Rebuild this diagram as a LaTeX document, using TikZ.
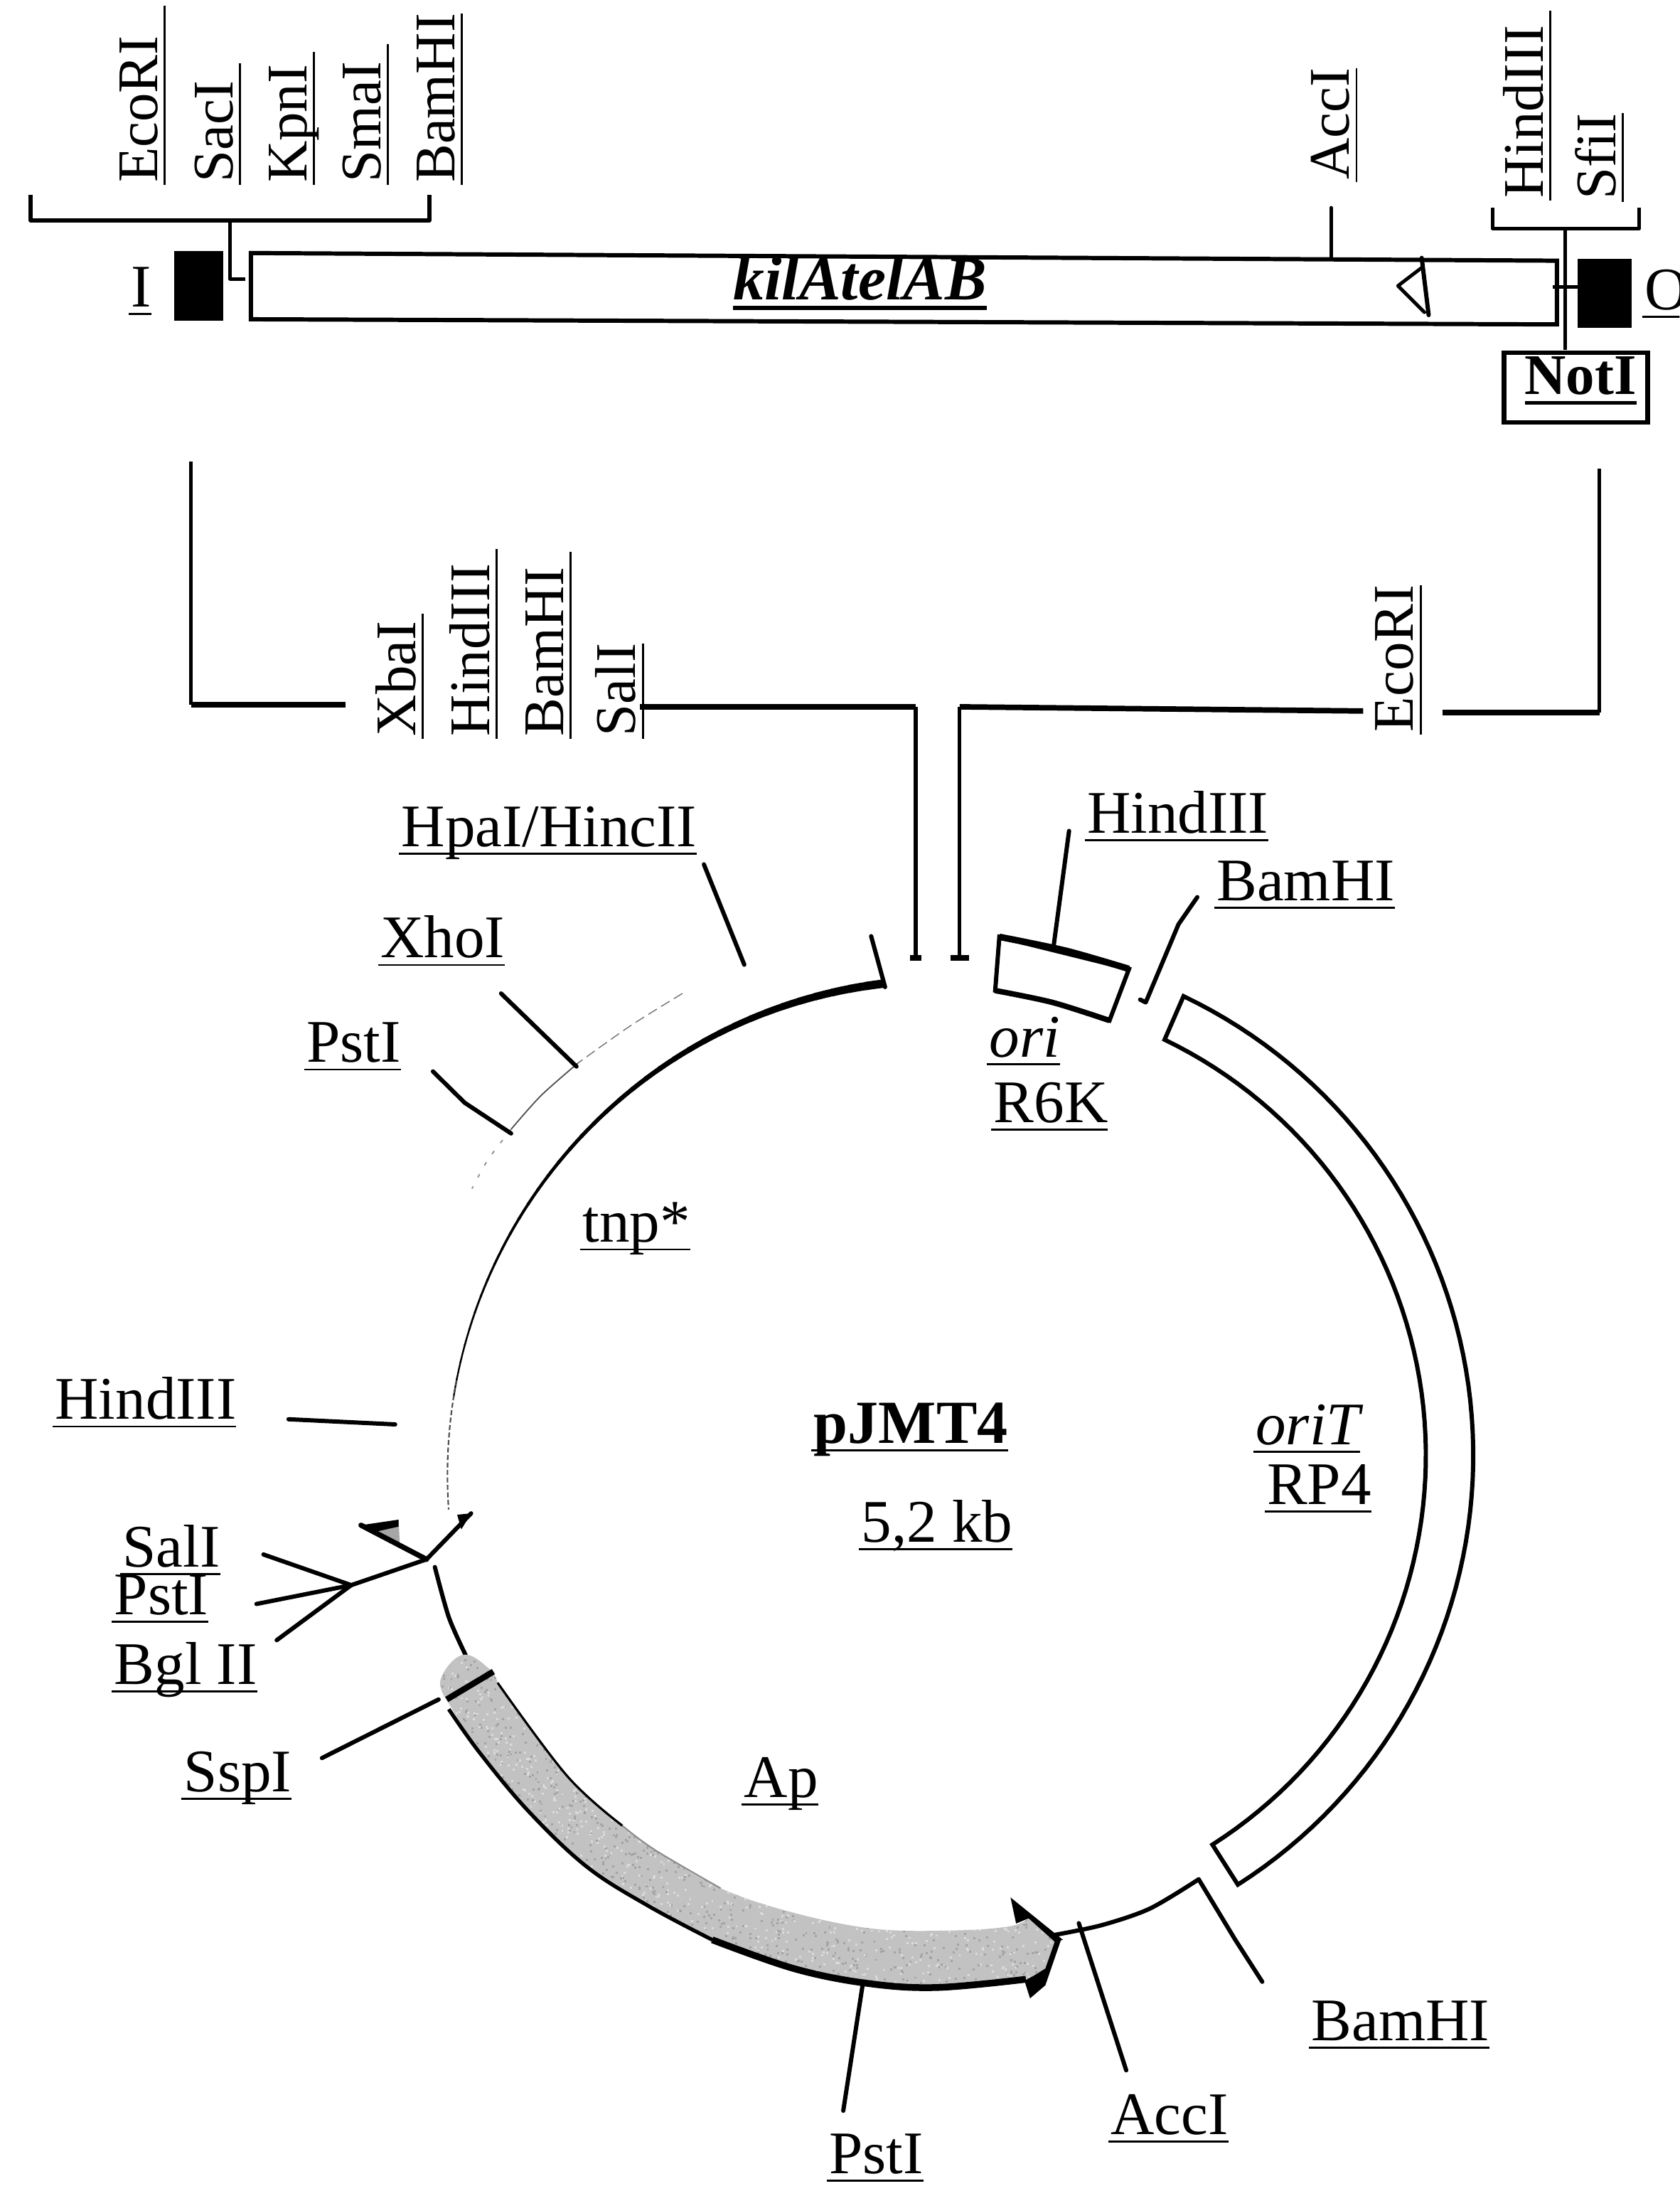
\documentclass[tikz,border=0pt]{standalone}
\usepackage{fontspec}
\setmainfont{Liberation Serif}
\newcommand{\ulnd}[2][0pt]{\setbox0\hbox{#2}\dimen0=\wd0 \advance\dimen0 by #1\relax\rlap{\kern-1pt\rule[-3.3pt]{\dimexpr\dimen0+1pt\relax}{0.8pt}}\box0}
\newcommand{\ulthick}[1]{\setbox0\hbox{#1}\rlap{\rule[-4pt]{\wd0}{1.5pt}}\box0}
\definecolor{apgray}{gray}{0.76}
\tikzset{
  lab/.style={inner sep=0pt,outer sep=0pt,anchor=base west,font=\fontsize{24.2}{26}\selectfont},
  vlab/.style={lab,rotate=90,font=\fontsize{23}{25}\selectfont},
  tick/.style={draw=black,line width=1.7pt,line cap=round,line join=round},
  thin tick/.style={draw=black,line width=1.4pt,line cap=round,line join=round},
  boxline/.style={draw=black,line width=1.7pt,line join=miter}
}
\begin{document}
\begin{tikzpicture}[x=0.0196100cm,y=-0.0196100cm]
\clip (0,0) rectangle (1205,1568);
\fill[white] (0,0) rectangle (1205,1568);

% ---------- cassette: rotated labels
\node[vlab] (tEco) at (113,131) {\ulnd[12pt]{EcoRI}};
\node[vlab] (tSac) at (167,131) {\ulnd[7pt]{SacI}};
\node[vlab] (tKpn) at (220,131) {\ulnd[5pt]{KpnI}};
\node[vlab] (tSma) at (273,131) {\ulnd[7pt]{SmaI}};
\node[vlab] (tBam) at (326,131) {\ulnd{BamHI}};
\node[vlab] (tAcc) at (968,129) {\ulnd{AccI}};
\node[vlab] (tHind) at (1107,142) {\ulnd[6pt]{HindIII}};
\node[vlab] (tSfi) at (1159,143) {\ulnd{SfiI}};

% ---------- cassette
\coordinate (brLt) at (22,140); \coordinate (brLb) at (22,158);
\coordinate (brRb) at (308,158); \coordinate (brRt) at (308,140);
\coordinate (stemLt) at (165,158); \coordinate (stemLb) at (165,200); \coordinate (stemLe) at (176,200);
\draw[tick,line cap=butt] (brLt) -- (brLb) -- (brRb) -- (brRt);
\draw[thin tick,line cap=butt] (stemLt) -- (stemLb) -- (stemLe);
\fill[black] (125,180) rectangle (160,230);
\draw[boxline] (180,181.5) -- (1117,187) -- (1117,232.7) -- (180,229) -- cycle;
\node[lab] (lI) at (94,220) {\ulnd{I}};
\node[lab,anchor=base,font=\fontsize{25}{27}\selectfont\bfseries\itshape] (lkil) at (617,215) {\ulthick{kilAtelAB}};
% AccI tick
\coordinate (accT) at (955,149); \coordinate (accB) at (955,185);
\draw[thin tick] (accT) -- (accB);
% internal triangle
\coordinate (trA) at (1020,185); \coordinate (trB) at (1025,226);
\coordinate (trC) at (1020,192); \coordinate (trD) at (1003,205); \coordinate (trE) at (1022,224);
\draw[tick] (trA) -- (trB);
\draw[thin tick] (trC) -- (trD) -- (trE);
% right bracket
\coordinate (brRLt) at (1071,149); \coordinate (brRLb) at (1071,164);
\coordinate (brRRb) at (1176,164); \coordinate (brRRt) at (1176,149);
\coordinate (stemRt) at (1123,164); \coordinate (stemRb) at (1123,251);
\coordinate (stemRa) at (1114,205.6); \coordinate (stemRc) at (1133,205.6);
\draw[thin tick,line cap=butt] (brRLt) -- (brRLb) -- (brRRb) -- (brRRt);
\draw[thin tick,line cap=butt] (stemRt) -- (stemRb);
\draw[thin tick,line cap=butt] (stemRa) -- (stemRc);
\fill[black] (1132,185.5) rectangle (1170.5,235);
\node[lab] (lO) at (1180,222) {\ulnd{O}};
\node[draw=black,line width=1.9pt,minimum width=2.02cm,minimum height=0.98cm,inner sep=0pt,outer sep=0pt] (notbox) at (1130.5,278) {};
\node[lab,anchor=base,font=\fontsize{23}{25}\selectfont\bfseries] (lNot) at (1134,283) {\ulthick{NotI}};

% ---------- insertion lines and their labels
\node[vlab] (mXba) at (298,528) {\ulnd[3pt]{XbaI}};
\node[vlab] (mHind) at (351,528) {\ulnd[6pt]{HindIII}};
\node[vlab] (mBam) at (404,528) {\ulnd[6pt]{BamHI}};
\node[vlab] (mSal) at (456,528) {\ulnd{SalI}};
\node[vlab] (mEco) at (1014,525) {\ulnd{EcoRI}};
\coordinate (iLt) at (137,331); \coordinate (iLc) at (137,505.5); \coordinate (iLe) at (248,505.5);
\coordinate (iMs) at (459,507); \coordinate (iMc) at (657,507); \coordinate (iMe) at (657,687);
\coordinate (iNc) at (688.5,507); \coordinate (iNe) at (688.5,687); \coordinate (iNs) at (978,510);
\coordinate (iRs) at (1035,511); \coordinate (iRc) at (1147.5,511); \coordinate (iRt) at (1147.5,336);
\draw[line width=1.4pt] (iLt) -- (iLc);
\draw[line width=2.3pt] (iLc) -- (iLe);
\draw[line width=2.2pt] (iMs) -- (iMc);
\draw[line width=1.5pt] (iMc) -- (iMe);
\draw[line width=2.2pt] (iNs) -- (iNc);
\draw[line width=1.5pt] (iNc) -- (iNe);
\draw[line width=2.3pt] (iRs) -- (iRc);
\draw[line width=1.4pt] (iRc) -- (iRt);
\coordinate (capAl) at (653,687); \coordinate (capAr) at (661,687);
\coordinate (capBl) at (682,687); \coordinate (capBr) at (695,687);
\draw[line width=2.4pt] (capAl) -- (capAr);
\draw[line width=2.4pt] (capBl) -- (capBr);

% ---------- plasmid labels
\node[lab] (pHpa) at (288,607) {\ulnd{HpaI/HincII}};
\node[lab] (pXho) at (273,687) {\ulnd{XhoI}};
\node[lab] (pPst) at (220,762) {\ulnd{PstI}};
\node[lab] (pTnp) at (418,891) {\ulnd{tnp*}};
\node[lab] (pHindT) at (780,597.6) {\ulnd{HindIII}};
\node[lab] (pBamT) at (873,646) {\ulnd{BamHI}};
\node[lab] (pOri) at (710,758) {\ulnd{\itshape ori}};
\node[lab] (pR6K) at (713,805) {\ulnd{R6K}};
\node[lab,font=\fontsize{24.5}{26}\selectfont\bfseries] (pName) at (584,1035) {\ulnd{pJMT4}};
\node[lab] (pSize) at (618,1106) {\ulnd{5,2 kb}};
\node[lab] (pOriT) at (901,1036) {\ulnd{\itshape oriT}};
\node[lab] (pRP4) at (909,1079) {\ulnd{RP4}};
\node[lab] (pAp) at (534,1289) {\ulnd{Ap}};
\node[lab] (pHindL) at (39.5,1018) {\ulnd{HindIII}};
\node[lab] (pSal) at (88,1124) {\ulnd{SalI}};
\node[lab] (pPstL) at (82,1158) {\ulnd{PstI}};
\node[lab] (pBgl) at (82,1208) {\ulnd{Bgl II}};
\node[lab] (pSsp) at (132,1285) {\ulnd{SspI}};
\node[lab] (pBamB) at (941,1463.6) {\ulnd{BamHI}};
\node[lab] (pAcc) at (797,1531) {\ulnd{AccI}};
\node[lab] (pPstB) at (595,1559) {\ulnd{PstI}};

% ---------- backbone, upper left (gradually fading out)
\def\bx{676}\def\by{1058}\def\br{355}
\foreach \i in {0,...,36}{
  \pgfmathsetmacro\aA{263.3-2*\i}
  \pgfmathsetmacro\aB{\aA-2.2}
  \pgfmathsetmacro\lw{2.7*(1-\i/36)^1.5+0.65}
  \draw[line width=\lw pt] plot[domain=\aA:\aB,samples=3] ({\bx+\br*cos(\x)},{\by+\br*sin(\x)});
}
\draw[line width=.6pt,black!70,dash pattern=on 2pt off 1pt] plot[domain=191:176,samples=14] ({\bx+\br*cos(\x)},{\by+\br*sin(\x)});
\coordinate (topEnd) at (635,708); \coordinate (topTick) at (625,671.5);
\draw[tick] (topEnd) -- (topTick);
% faint outer trace
\draw[line width=.4pt,black!55,dash pattern=on 4pt off 2pt] plot[smooth] coordinates {(489.6,712.6) (452,736) (414.6,762.6)};
\draw[line width=.5pt,black!70] plot[smooth] coordinates {(414.6,762.6) (388,786) (366.7,810)};
\draw[line width=.5pt,black!45,dash pattern=on 1.5pt off 4pt] plot[smooth] coordinates {(366.7,810) (350,832) (338.6,852.6)};

% site ticks
\coordinate (hpaA) at (505,620); \coordinate (hpaB) at (534,692);
\draw[tick] (hpaA) -- (hpaB);
\coordinate (xhoA) at (359.5,712.6); \coordinate (xhoB) at (413.6,765);
\draw[tick] (xhoA) -- (xhoB);
\coordinate (pstA) at (310.6,768.5); \coordinate (pstM) at (333.4,791); \coordinate (pstB) at (366.7,813);
\draw[tick] (pstA) -- (pstM) -- (pstB);
\coordinate (hinA) at (767,596); \coordinate (hinB) at (756,678);
\draw[tick] (hinA) -- (hinB);
\coordinate (bamA) at (859,643.5); \coordinate (bamM) at (845.5,663); \coordinate (bamB) at (822,719); \coordinate (bamF) at (818,717);
\draw[tick] (bamA) -- (bamM) -- (bamB) -- (bamF);
\coordinate (hndA) at (207,1018); \coordinate (hndB) at (283.5,1021.7);
\draw[tick] (hndA) -- (hndB);

% ori box
\draw[boxline] plot[smooth,tension=.5] coordinates {(714,710.5) (755,719) (796,732)} -- (810,695) -- (717,672) -- cycle;
\draw[draw=black,line width=2.6pt] plot[smooth,tension=.5] coordinates {(717,672) (765,682) (810,695)};
\draw[draw=black,line width=2.2pt] plot[smooth,tension=.5] coordinates {(714,710.5) (755,719) (796,732)};

% oriT band
\draw[boxline] plot[domain=-64.5:57.5,samples=70] ({692+365*cos(\x)},{1044+365*sin(\x)})
   -- plot[domain=57.5:-64.3,samples=70] ({692+331*cos(\x)},{1044+331*sin(\x)}) -- cycle;

% transposon ends and branch
\coordinate (hub) at (306,1118.5);
\coordinate (wR) at (338,1085.5); \coordinate (wRb) at (328,1086.5); \coordinate (wRc) at (331,1097);
\fill[black] (wR) -- (wRb) -- (wRc) -- cycle;
\draw[tick] (hub) -- (wR);
\fill[gray!70] (262,1095) -- (286,1091) -- (287,1110) -- cycle;
\fill[black] (259,1094) -- (286,1090) -- (286,1095) -- (268,1099) -- cycle;
\coordinate (wL) at (259,1094);
\draw[tick,line width=2.1pt] (hub) -- (wL);
\coordinate (brn) at (252,1137);
\coordinate (bsA) at (189,1115); \coordinate (bsB) at (184,1150.5); \coordinate (bsC) at (198.5,1176.5);
\draw[tick] (hub) -- (brn);
\draw[tick] (bsA) -- (brn);
\draw[tick] (bsB) -- (brn);
\draw[tick] (bsC) -- (brn);
\draw[tick] plot[smooth] coordinates {(312,1124) (322,1160) (334,1187)};

% Ap arrow
\def\appath{plot[smooth,tension=.7] coordinates {(322,1221.7) (316,1205) (332,1187) (351,1197) (357,1207)}
   -- plot[smooth,tension=.6] coordinates {(357,1207) (407,1274) (446.5,1309.5) (470,1327) (517,1354.4) (569.5,1372) (628,1383.6) (686.6,1384.6) (724.6,1381.7) (738,1376)}
   -- (760,1391) -- (750,1412) -- (740,1419.7)
   -- plot[smooth,tension=.6] coordinates {(736,1419.7) (672,1425.6) (622,1422.6) (569.5,1412) (511,1391.4) (465,1367) (421,1339) (379,1299) (344,1257) (322,1221.7)} -- cycle}
\fill[apgray] \appath;
\begin{scope}
  \clip \appath;
  \pgfmathsetseed{4242}
  \foreach \i in {1,...,5000}{
    \pgfmathsetmacro\px{314+rnd*450}
    \pgfmathsetmacro\py{1185+rnd*245}
    \pgfmathsetmacro\shade{rnd<.5?36:14}
    \fill[black!\shade!white] (\px,\py) rectangle ++(1.5,1.5);
  }
\end{scope}
\draw[line width=.9pt] plot[smooth,tension=.6] coordinates {(357,1207) (407,1274) (446.5,1309.5)};
\draw[line width=.6pt,black!45] plot[smooth,tension=.6] coordinates {(446.5,1309.5) (470,1327) (517,1354.4)};
\draw[line width=1.5pt] plot[smooth,tension=.6] coordinates {(322,1226) (344,1257) (379,1299) (421,1339) (465,1367) (511,1391.4)};
\draw[line width=2.7pt] plot[smooth,tension=.6] coordinates {(511,1391.4) (569.5,1412) (622,1422.6) (672,1425.6) (736,1419.7)};
\coordinate (apBarA) at (320.5,1219); \coordinate (apBarB) at (354,1199);
\draw[line width=2.4pt] (apBarA) -- (apBarB);
\fill[black] (725,1361) -- (762.6,1391.4) -- (757,1393) -- (738,1376) -- (729,1379.7) -- cycle;
\fill[black] (761,1392) -- (750,1424) -- (739,1433.4) -- (735,1420.7) -- (742,1417) -- (750,1412) -- (757,1392) -- cycle;
\coordinate (sspA) at (231,1261); \coordinate (sspB) at (314.7,1219);
\draw[tick] (sspA) -- (sspB);

% backbone, lower right
\draw[tick] plot[smooth] coordinates {(756,1388) (790,1381) (825,1369) (860,1348)};
\coordinate (bJ) at (860,1348); \coordinate (bM) at (886,1391); \coordinate (bE) at (905.6,1421.5);
\draw[tick] (bJ) -- (bM) -- (bE);
\coordinate (acA) at (774,1379.5); \coordinate (acB) at (808,1485);
\draw[tick] (acA) -- (acB);
\coordinate (psA) at (619,1423); \coordinate (psB) at (605,1514);
\draw[tick] (psA) -- (psB);
\end{tikzpicture}
\end{document}
